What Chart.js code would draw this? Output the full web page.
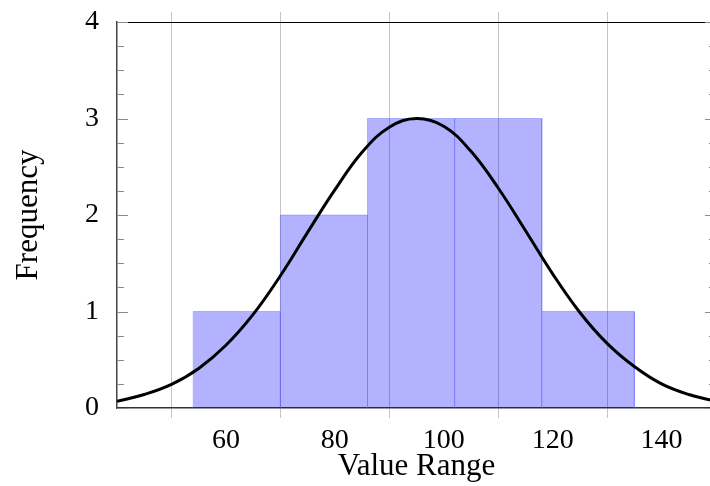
<!DOCTYPE html>
<html>
<head>
<meta charset="utf-8">
<script src="https://cdn.jsdelivr.net/npm/chart.js@4/dist/chart.umd.min.js"></script>
<style>
  html, body { margin: 0; padding: 0; background: #fff; overflow: hidden; }
  #wrap { width: 730px; height: 486px; }
</style>
</head>
<body>
<div id="wrap"><canvas id="histChart" width="730" height="486"></canvas></div>
<script>
// histogram bins (edges) and counts
const binEdges = [54, 70, 86, 102, 118, 135];
const binCounts = [1, 2, 3, 3, 1];

// fitted normal curve
const curveX = [40, 45, 50, 55, 60, 65, 70, 75, 80, 85, 90, 95, 100, 105, 110, 115, 120, 125, 130, 135, 140, 145, 150];
const curveY = [0.07, 0.14, 0.245, 0.41, 0.65, 0.97, 1.37, 1.82, 2.26, 2.65, 2.91, 3.0, 2.92, 2.66, 2.28, 1.84, 1.39, 0.99, 0.67, 0.43, 0.25, 0.14, 0.07];

// axis ticks
const xTickLabels = [60, 80, 100, 120, 140];
const xGridAt = [50, 70, 90, 110, 130];
const yTickLabels = [0, 1, 2, 3, 4];

const histPts = [];
binCounts.forEach(function(h, i) {
    const a = binEdges[i], b = binEdges[i + 1];
    histPts.push({x: a, y: 0}, {x: a, y: h}, {x: b, y: h}, {x: b, y: 0});
});
const curvePts = curveX.map(function(x, i) { return {x: x, y: curveY[i]}; });

const gridColor = function(ctx) {
    return ctx.tick && xGridAt.includes(ctx.tick.value) ? '#c4c4c4' : 'rgba(0,0,0,0)';
};

// small ticks pointing inwards on both y sides
const innerTicks = {
    id: 'innerTicks',
    afterDraw(chart) {
        const y = chart.scales.y;
        const area = chart.chartArea;
        const c = chart.ctx;
        c.save();
        c.strokeStyle = '#8a8a8a';
        c.lineWidth = 1;
        y.ticks.forEach(function(t) {
            const py = Math.round(y.getPixelForValue(t.value)) + 0.5;
            const len = yTickLabels.includes(t.value) ? 11 : 7;
            c.beginPath();
            c.moveTo(area.left, py); c.lineTo(area.left + len, py);
            c.moveTo(area.right, py); c.lineTo(area.right - len, py);
            c.stroke();
        });
        c.restore();
    }
};

Chart.defaults.font.family = '"Liberation Serif", "Times New Roman", serif';
Chart.defaults.color = '#000';

new Chart(document.getElementById('histChart').getContext('2d'), {
    type: 'line',
    data: {
        datasets: [{
            label: 'Normal fit',
            data: curvePts,
            borderColor: '#000',
            borderWidth: 3,
            pointRadius: 0,
            tension: 0.4,
            fill: false,
            order: 0
        }, {
            label: 'Histogram',
            data: histPts,
            borderColor: 'rgba(90,90,255,0.38)',
            borderWidth: 1,
            backgroundColor: 'rgba(0,0,255,0.3)',
            pointRadius: 0,
            tension: 0,
            fill: 'origin',
            order: 1
        }]
    },
    options: {
        responsive: false,
        animation: false,
        devicePixelRatio: 1,
        layout: { padding: { left: 0, right: 14, top: 0, bottom: 0 } },
        plugins: {
            legend: { display: false },
            tooltip: { enabled: false }
        },
        scales: {
            x: {
                type: 'linear',
                position: 'bottom',
                min: 40,
                max: 150,
                afterFit: function(s) { s.height = 78; },
                grid: { color: gridColor, lineWidth: 1, tickLength: 10 },
                border: { display: true, color: '#333', width: 1.5 },
                ticks: {
                    stepSize: 10,
                    autoSkip: false,
                    maxRotation: 0,
                    padding: 6,
                    font: { size: 28 },
                    callback: function(v) { return xTickLabels.includes(v) ? String(v) : ''; }
                },
                title: {
                    display: true,
                    text: 'Value Range',
                    font: { size: 31 },
                    padding: { top: 0, bottom: 1 }
                }
            },
            xTop: {
                type: 'linear',
                position: 'top',
                min: 40,
                max: 150,
                afterFit: function(s) { s.height = 22; },
                grid: { color: gridColor, drawOnChartArea: false, tickLength: 10 },
                border: { display: true, color: '#000', width: 1 },
                ticks: { stepSize: 10, display: false }
            },
            y: {
                min: 0,
                max: 4,
                afterFit: function(s) { s.width = 117; },
                grid: { display: false },
                border: { display: true, color: '#444', width: 1.5 },
                ticks: {
                    stepSize: 0.25,
                    autoSkip: false,
                    padding: 10,
                    font: { size: 28, lineHeight: 0.8 },
                    callback: function(v) { return yTickLabels.includes(v) ? String(v) : ''; }
                },
                title: {
                    display: true,
                    text: 'Frequency',
                    font: { size: 31 },
                    padding: { top: 10, bottom: 0 }
                }
            }
        }
    },
    plugins: [innerTicks]
});
</script>
</body>
</html>
